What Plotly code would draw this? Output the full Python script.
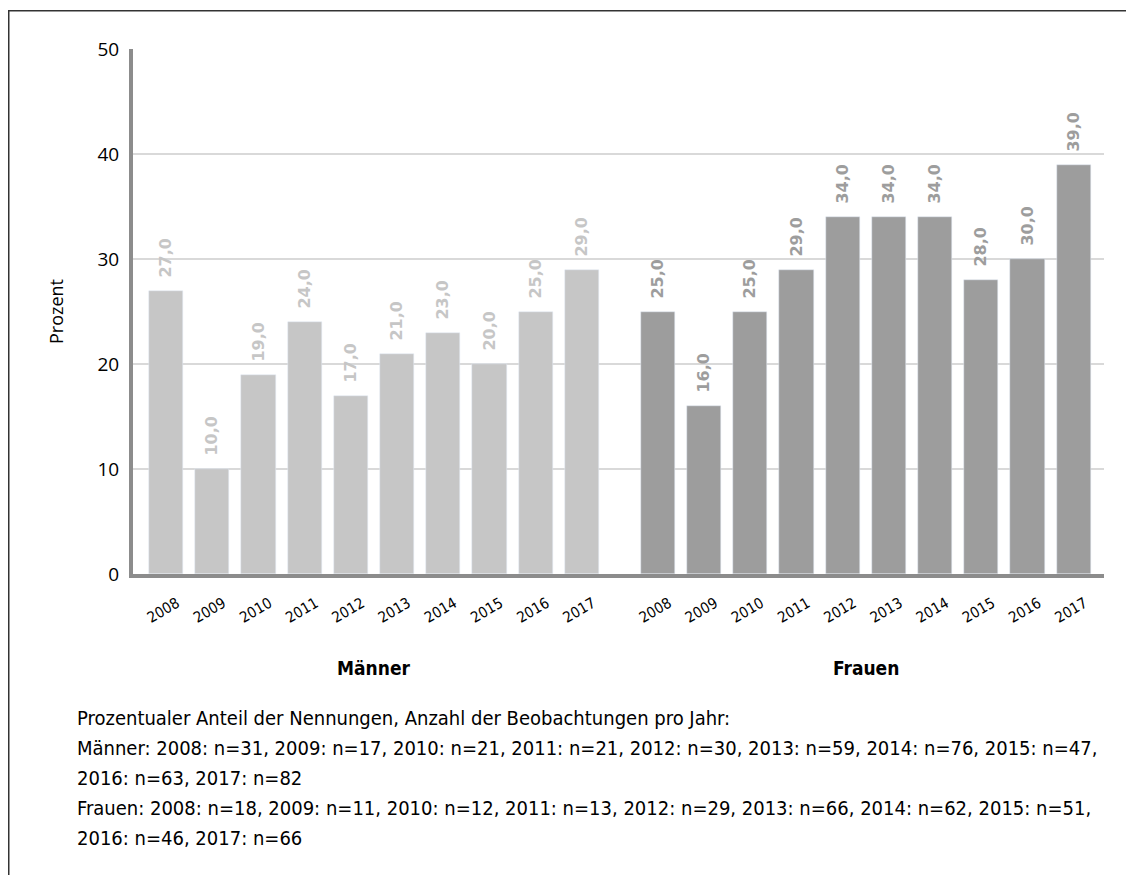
import plotly.graph_objects as go

years = ["2008", "2009", "2010", "2011", "2012", "2013", "2014", "2015", "2016", "2017"]
maenner = [27, 10, 19, 24, 17, 21, 23, 20, 25, 29]
frauen = [25, 16, 25, 29, 34, 34, 34, 28, 30, 39]
groups = ["Männer", "Frauen"]
footnote = [
    "Prozentualer Anteil der Nennungen, Anzahl der Beobachtungen pro Jahr:",
    "Männer: 2008: n=31, 2009: n=17, 2010: n=21, 2011: n=21, 2012: n=30, 2013: n=59, 2014: n=76, 2015: n=47,",
    "2016: n=63, 2017: n=82",
    "Frauen: 2008: n=18, 2009: n=11, 2010: n=12, 2011: n=13, 2012: n=29, 2013: n=66, 2014: n=62, 2015: n=51,",
    "2016: n=46, 2017: n=66",
]

GAP = 1.645
xm = list(range(len(years)))
xf = [i + len(years) - 1 + GAP for i in range(len(years))]

FONT = "DejaVu Sans Condensed, Liberation Sans Narrow, sans-serif"

W, H = 1126, 867
L, T, R, B = 125, 41, 30, 301
PW = W - L - R
PH = H - T - B

def py(p):
    # screen pixel y (with 8px page offset) to paper coords
    return (T + PH - (p - 8)) / PH

def px(p):
    return (p - 8 - L) / PW

fig = go.Figure()
fig.add_trace(go.Bar(
    x=xm, y=maenner, marker_color="#c6c6c6", width=0.74,
    texttemplate="\u00a0\u00a0<b>%{y:.1f}</b>", textposition="outside", textangle=-90,
    constraintext="none",
    textfont=dict(family="DejaVu Sans", size=16, color="#c6c6c6"),
    cliponaxis=False, showlegend=False, name=groups[0],
))
fig.add_trace(go.Bar(
    x=xf, y=frauen, marker_color="#9d9d9d", width=0.74,
    texttemplate="\u00a0\u00a0<b>%{y:.1f}</b>", textposition="outside", textangle=-90,
    constraintext="none",
    textfont=dict(family="DejaVu Sans", size=16, color="#9d9d9d"),
    cliponaxis=False, showlegend=False, name=groups[1],
))

fig.update_layout(
    width=W, height=H,
    margin=dict(l=L, r=R, t=T, b=B),
    paper_bgcolor="white", plot_bgcolor="white",
    separators=",.",
    font=dict(family=FONT, color="#000000"),
    bargap=0,
    xaxis=dict(
        range=[-0.714, 20.3],
        tickvals=xm + xf, ticktext=years + years,
        tickangle=-30, tickfont=dict(family=FONT, size=15, color="#000"),
        showgrid=False, zeroline=False,
        showline=True, linecolor="#8c8c8c", linewidth=4,
        ticks="outside", ticklen=2, tickcolor="white",
        ticklabelstandoff=9, ticklabelshift=11,
    ),
    yaxis=dict(
        range=[0, 50], tickvals=[0, 10, 20, 30, 40, 50],
        tickfont=dict(family="Open Sans, DejaVu Sans", size=19, color="#000"),
        showgrid=True, gridcolor="#d9d9d9", gridwidth=2,
        zeroline=False,
        showline=True, linecolor="#8c8c8c", linewidth=4,
        ticks="outside", ticklen=6, tickcolor="white",
        title=dict(text="Prozent", font=dict(family="Open Sans, DejaVu Sans", size=18, color="#000"), standoff=30),
    ),
)

annotations = []
centers = [sum(xm) / len(xm), sum(xf) / len(xf)]
for g, c in zip(groups, centers):
    annotations.append(dict(
        x=c, xref="x", y=py(668), yref="paper", yanchor="middle",
        text="<b>" + g + "</b>",
        showarrow=False, font=dict(family=FONT, size=19, color="#000"),
    ))

for i, line in enumerate(footnote):
    annotations.append(dict(
        x=px(75), xref="paper", y=py(718 + 30 * i), yref="paper",
        text=line, showarrow=False, xanchor="left", yanchor="middle",
        font=dict(family=FONT, size=20, color="#000"),
    ))
fig.update_layout(annotations=annotations)

fig.add_shape(type="rect", xref="paper", yref="paper",
              x0=px(8.75), x1=1.2, y0=-1.0, y1=py(10.75),
              line=dict(color="#333333", width=1.5), layer="below")

fig.write_html("out.html")
